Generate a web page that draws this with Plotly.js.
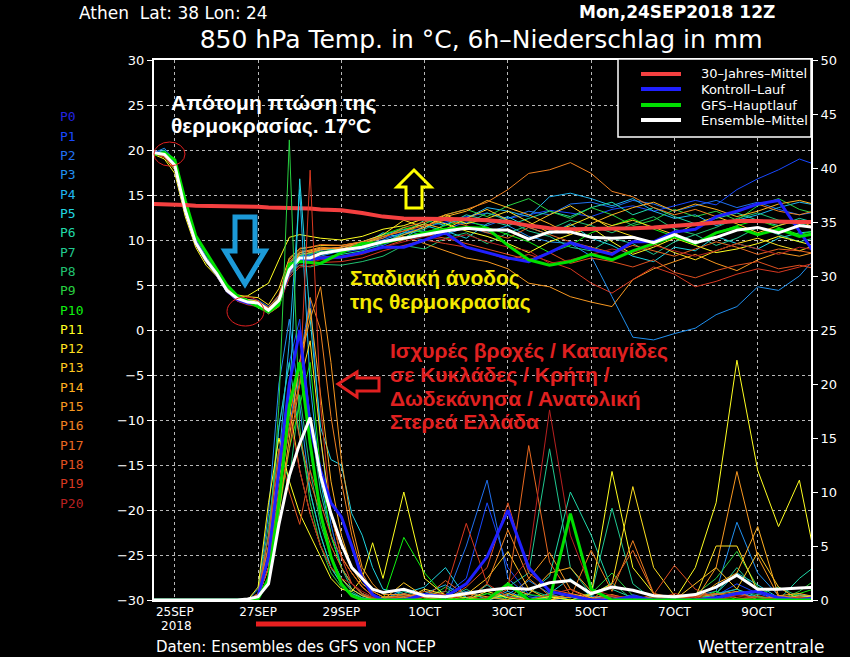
<!DOCTYPE html>
<html><head><meta charset="utf-8">
<script src="https://cdn.plot.ly/plotly-3.0.1.min.js"></script>
<style>html,body{margin:0;padding:0;background:#000;}#chart{width:850px;height:657px;}</style>
</head><body><div id="chart"></div>
<script>
// ---- time grids (hours since 24SEP2018 12Z) ----
const tempHours = [0,6,12,18,24,30,36,42,48,54,60,66,72,78,84,90,96,108,120,132,144,156,168,180,192,204,216,228,240,252,264,276,288,300,312,324,336,348,360,372,384];
const rainHours = [0,48,54,60,66,72,78,84,90,96,102,108,114,120,126,132,144,156,168,180,192,204,216,228,240,252,264,276,288,300,312,324,336,348,360,372,384];

// ---- x tick labels ----
const tickHours = [12,60,108,156,204,252,300,348];
const tickLabels = ['25SEP','27SEP','29SEP','1OCT','3OCT','5OCT','7OCT','9OCT'];

// ---- member names / colours ----
const memberNames = ['P0','P1','P2','P3','P4','P5','P6','P7','P8','P9','P10','P11','P12','P13','P14','P15','P16','P17','P18','P19','P20'];
const memberColors = ['#2424e0','#1848ff','#2070f0','#2090f0','#20b4f0','#20d4e0','#20d8a8','#20c890','#20c070','#28d040','#10f010','#ffff20','#ffe020','#ffc820','#ffb020','#f89820','#f08020','#e86820','#e05020','#d83820','#b82020'];

// ---- 850 hPa temperature (°C) ----
const tP1 = [19.8,19.6,18.0,13.0,9.5,7.6,6.0,4.2,3.2,2.9,2.7,2.0,3.0,7.2,8.4,8.2,8.6,9.0,9.6,10.2,10.8,11.4,12.0,12.6,13.0,12.4,12.8,13.3,13.0,12.6,13.4,13.8,13.2,13.8,14.4,13.9,15.6,16.8,17.8,19.0,18.2];
const tP2 = [19.6,19.8,18.6,13.6,10.0,8.0,6.5,4.6,3.8,3.4,3.3,2.6,3.8,6.9,8.1,8.3,8.8,8.6,9.0,9.4,10.4,10.0,11.2,12.0,11.6,12.4,13.2,12.8,14.0,14.2,13.6,14.4,14.0,13.2,13.8,14.4,13.6,14.2,13.4,12.8,13.2];
const tP3 = [19.7,20.2,18.8,13.8,10.2,8.2,6.6,4.8,3.6,3.2,2.8,2.3,3.1,6.0,7.6,7.9,8.2,8.8,9.4,10.0,10.8,11.0,10.6,11.4,10.8,11.6,10.4,9.8,9.6,8.2,3.7,-0.8,-1.1,-0.4,0.2,1.7,2.6,4.8,4.4,6.0,8.6];
const tP4 = [19.5,19.6,18.2,13.1,9.6,7.6,6.1,4.3,3.4,3.0,3.1,2.4,3.6,7.4,8.6,8.4,8.9,9.2,9.8,10.6,11.2,10.4,11.8,12.4,13.6,13.2,12.6,14.8,15.2,14.6,13.8,14.6,13.2,12.4,12.8,11.6,12.2,12.8,13.6,14.2,13.8];
const tP5 = [19.6,20.0,18.5,13.4,9.9,7.9,6.4,4.5,3.7,3.3,3.2,2.1,3.2,6.5,8.2,8.6,9.0,8.9,9.4,10.8,10.2,11.6,11.0,10.2,11.8,12.6,11.4,10.6,11.8,10.2,9.4,8.2,7.6,9.2,8.8,10.4,9.6,9.0,10.2,10.8,11.0];
const tP6 = [19.7,19.4,18.1,13.2,9.8,7.7,6.2,4.4,3.5,3.1,2.9,2.0,2.8,6.2,7.8,7.6,8.0,8.4,8.8,9.6,10.8,12.2,11.6,12.8,12.2,11.6,12.4,13.2,12.6,13.6,14.2,12.8,13.6,12.6,11.8,12.4,13.0,12.2,11.6,12.4,11.8];
const tP7 = [19.6,19.5,18.4,13.5,9.9,7.9,6.4,4.6,3.6,3.2,3.0,2.3,3.4,6.8,8.0,8.2,8.4,8.8,9.2,9.8,10.6,11.2,12.4,11.8,13.0,12.2,11.0,10.4,9.2,8.8,10.2,9.6,8.4,9.8,10.6,9.4,10.2,11.4,10.6,9.8,10.4];
const tP8 = [19.7,19.3,18.3,13.3,9.6,7.7,6.2,4.3,3.4,2.9,2.8,1.9,3.0,6.4,7.2,7.0,7.3,7.2,7.6,8.2,9.4,9.0,10.2,10.8,9.6,10.8,11.6,11.2,12.2,11.6,10.8,11.8,12.6,11.2,10.6,11.4,12.4,13.0,12.2,11.6,12.2];
const tP9 = [19.8,19.5,18.6,13.8,10.1,8.1,6.6,4.7,3.7,3.3,3.1,2.2,3.3,7.0,8.3,8.5,8.7,9.0,9.4,10.4,11.2,11.8,12.8,13.4,12.6,13.8,14.6,13.2,12.4,13.6,12.8,11.6,12.2,13.4,12.6,13.2,12.2,13.8,14.6,13.4,12.8];
const tP10 = [19.6,19.4,18.2,13.4,9.8,7.8,6.3,4.5,3.5,3.1,2.9,2.1,3.1,6.6,7.9,8.1,8.6,8.8,9.2,10.6,11.4,10.8,11.6,12.2,11.4,10.6,9.8,8.6,9.4,10.8,11.6,12.4,11.2,10.4,9.6,10.8,11.6,12.2,11.4,10.6,11.2];
const tP11 = [19.5,19.0,17.4,12.6,9.2,7.2,6.0,4.2,3.6,3.8,4.5,5.2,7.8,10.3,10.6,10.4,10.2,10.0,10.4,11.2,11.6,12.4,11.8,11.0,10.4,9.6,8.6,9.8,10.6,11.4,9.8,8.4,9.2,10.2,9.4,8.6,9.0,9.6,10.4,9.8,9.2];
const tP12 = [19.6,19.2,17.8,13.0,9.5,7.5,6.1,4.4,3.9,3.7,3.6,2.8,4.6,8.0,9.0,9.2,9.4,9.4,9.8,10.6,12.2,11.4,12.8,11.8,12.4,13.2,12.0,10.8,11.6,12.6,11.2,10.4,9.6,8.6,7.8,8.8,9.6,10.2,9.4,8.8,9.6];
const tP13 = [19.7,19.4,18.1,13.3,9.8,7.8,6.4,4.6,3.8,3.4,3.2,2.4,3.6,7.4,8.6,8.8,9.1,9.0,9.6,10.4,11.0,11.8,11.2,12.4,13.4,12.2,11.6,12.8,13.8,12.4,11.6,12.2,11.4,10.6,11.8,12.6,11.8,10.8,11.6,12.2,11.0];
const tP14 = [19.6,19.5,18.5,13.6,10.0,8.0,6.5,4.7,3.6,3.2,3.0,2.2,3.2,6.8,8.4,8.6,8.9,9.2,9.8,9.6,10.6,11.4,12.6,13.2,14.4,13.6,12.8,11.8,10.6,11.8,12.8,13.6,14.2,13.2,14.0,13.4,12.6,13.2,14.0,14.4,13.8];
const tP15 = [19.7,19.3,18.0,13.1,9.6,7.7,6.3,4.5,3.5,3.0,2.8,1.8,2.6,6.6,8.6,8.9,9.2,9.0,9.2,9.8,10.4,9.6,8.8,8.0,7.6,6.8,5.2,4.8,3.7,3.1,2.6,5.6,6.8,7.6,8.4,7.4,6.6,7.8,8.6,8.2,8.8];
const tP16 = [19.6,19.6,18.4,13.5,9.9,7.9,6.4,4.4,3.4,3.0,3.0,2.3,3.5,7.6,8.8,8.7,9.0,9.2,9.6,10.2,11.4,12.0,12.8,13.4,14.2,15.6,17.4,17.8,18.6,17.4,15.4,14.8,13.6,12.8,13.4,12.6,13.2,14.0,13.2,12.8,13.4];
const tP17 = [19.8,19.5,18.2,13.2,9.7,7.8,6.3,4.5,3.6,3.2,3.1,2.5,3.9,7.8,9.1,9.2,9.5,9.4,9.8,10.4,11.0,11.6,12.2,11.6,10.8,10.2,11.4,10.6,9.8,9.2,8.6,9.4,8.8,8.2,9.0,9.8,9.2,8.4,9.0,8.8,8.4];
const tP18 = [19.7,19.4,18.3,13.4,9.8,7.8,6.2,4.3,3.3,2.9,2.7,1.9,2.9,6.3,7.6,7.7,8.1,8.2,8.6,9.2,10.0,10.6,10.2,9.6,9.0,8.4,7.8,8.6,7.4,8.0,7.6,7.0,7.8,6.4,5.8,6.6,7.2,7.6,6.8,7.2,6.7];
const tP19 = [19.6,19.2,18.0,13.0,9.5,7.6,6.1,4.2,3.2,2.8,2.6,1.8,2.7,5.8,7.0,7.1,7.5,7.6,8.0,8.8,9.4,10.0,9.6,9.2,8.6,7.8,8.4,7.6,6.8,5.2,4.1,5.6,7.0,6.2,4.8,5.4,6.2,6.8,6.4,7.0,7.6];
const tP20 = [19.7,19.3,18.1,13.1,9.6,7.7,6.2,4.4,3.4,3.0,2.9,2.0,3.0,6.1,7.2,7.5,7.8,8.0,8.4,9.2,9.8,10.4,10.0,10.6,9.8,9.2,8.8,7.4,7.8,8.4,9.0,8.6,9.4,8.8,8.2,8.8,9.6,9.0,8.4,9.2,8.8];
const tControl = [19.7,19.6,18.4,13.4,9.8,7.8,6.3,4.4,3.4,3.0,2.8,2.0,3.0,6.6,7.8,7.8,8.0,8.1,8.6,9.2,9.2,10.0,10.8,9.2,8.6,8.0,7.6,8.6,9.7,9.0,8.4,9.8,9.8,10.9,11.2,12.6,13.2,14.0,14.4,11.0,7.6];
const tGFS = [19.5,19.7,18.9,14.4,10.5,8.6,6.8,5.0,3.8,3.2,2.6,2.0,2.8,7.3,7.6,7.5,7.4,8.6,9.6,9.7,10.2,10.8,11.2,11.4,11.3,9.4,7.8,7.2,7.6,8.4,7.8,8.8,9.6,10.4,9.6,10.8,11.4,10.6,11.2,10.4,10.8];
const tMean = [19.7,19.5,18.3,13.3,9.7,7.8,6.3,4.4,3.5,3.1,3.0,2.2,3.3,6.7,8.0,8.0,8.5,8.9,9.2,9.8,10.2,10.6,11.0,11.3,11.1,11.1,10.1,10.9,10.9,10.3,10.2,10.3,9.7,10.6,9.7,10.3,11.1,11.4,10.8,11.6,11.3];
const tClim = [14.0,14.0,13.9,13.9,13.8,13.8,13.8,13.7,13.7,13.7,13.7,13.6,13.6,13.6,13.5,13.5,13.4,13.3,13.0,12.6,12.4,12.4,12.4,12.3,12.2,12.0,11.6,11.3,11.2,11.2,11.2,11.3,11.4,11.6,11.8,12.0,12.1,12.1,12.0,12.0,12.0];

// ---- 6h precipitation (mm) ----
const rP1 = [0,0,0,0.5,6,16,22,26,14,8,4,2,1,0.4,0.1,0,0.2,0,0.5,2,9,3,0.5,0,0.3,0,0,0.5,0,0,0,0.4,1.5,0.6,0,0.3,0.5];
const rP2 = [0,0,0,0.3,3,10,16,22,28,15,7,3,1.5,0.6,0.2,0,1,0.3,0,5,11.1,2,0.3,0,0,0.4,0,0,0,0.2,0,0.6,1,0,0.3,0,0.2];
const rP3 = [0,0,0,1,8,20,26,18,10,6,3,1.5,0.6,0.2,0,0,0.5,0,0.2,0.8,0,0.5,1.8,0.6,0,0,0,0.3,0,0,0.4,0.8,7.2,2.5,0.4,0,0];
const rP4 = [0,0,0,0.4,4,13,24,38,20,11,6,3,1.5,0.6,0.2,0,0,0.6,1.4,0.2,0,0.8,0,0.2,0.5,0,0.3,0,0,0,0,0.2,0.6,0.3,0,0.5,0.2];
const rP5 = [0,0,0,0.2,2,9,18,39,26,16,13,12.5,8,6,3,1,0.6,1.2,3.0,0.2,0,0.4,0,0.6,2,0.3,0,0,0.3,0,0,0.6,2.5,1.4,0.2,0,0.3];
const rP6 = [0,0,0,0.5,6,16,22,15,10,6,3,1.5,0.6,0.2,0,0,0.3,0,0.5,0,1.4,0,0.6,2.2,10,6,1,0.2,0,0.3,0,0.5,1,0.3,0,2,3.5];
const rP7 = [0,0,0,0.3,3,12,20,25,17,10,6,3,1,0.4,0,0,0.8,0.2,0,1,0,1.2,2.5,14,3,0.5,8.5,1.5,0,0.2,0,0.6,3,0.8,0,0.3,0.5];
const rP8 = [0,0,0,0.6,7,14,11,19,12,7,4,2,0.8,0.2,0,0,0,0.5,0.8,0,0.2,0,1,0.3,0,0.4,1.6,0,0.3,0,0,0.2,0.8,0.5,1.2,0.3,0];
const rP9 = [0,0,0,0.4,4,18,42.6,16,9,5,2.5,1.2,0.4,0,0,0,0.5,0,1.2,0,0.6,0,0,0.4,0.2,0.6,2.5,0.4,0,0,0.5,2,4.5,1.2,0,0.8,2.2];
const rP10 = [0,0,0,0.2,2,8,14,18,22,12,6,3,1.5,0.6,0.2,0,5.8,2.5,0.3,0,0.6,0.2,0.5,0.3,0,0,0,0,0,0,0,0.8,0,0.3,0,0.6,1.2];
const rP11 = [0,0,0,1.2,9,15,11,8,6,4,2,1,0.8,2,5.3,2,10,2,0.4,0,0.8,0.2,0,0.3,0,0.5,11.9,3,0.6,0,3,9,22.2,12,6.8,11.1,1.5];
const rP12 = [0,0,0,0.3,3,10,16,20,24,15,8,4,2.5,1.2,0.4,0.2,0,1,0.5,0.2,0,0.6,0,0,0.3,0.5,1.5,10.5,3,0.4,0.2,5,5,0.8,0,0.4,0.2];
const rP13 = [0,0,0,0.5,5,13,18,12,8,5,3,2,1,0.4,0.1,0,1.6,0.3,0,0.5,2,4.5,1,0,0.6,0.2,0,0.3,0,0,1.5,3,1,4.4,1.2,0,0.3];
const rP14 = [0,0,0,0.2,2,8,15,22,27,19,11,6,3,1.5,0.8,0.3,0.3,0,0.4,0,0.2,1.2,0.5,2.5,3,0.8,0,0,0.3,0.2,0,1.5,2.5,6.8,0.4,0.6,0.2];
const rP15 = [0,0,0,0.4,4,11,17,22,26,29,22,13,7,3,1.5,0.5,0.5,0.2,0,0.6,0.3,0,2,4.4,1,0.2,0.5,0,0,0.4,0,3,11.9,4,0.3,0,0.5];
const rP16 = [0,0,0,0.3,3,9,14,20,28,25,17,11,6,2.5,0.8,0.3,0.2,0.8,0.4,0,1.5,6.5,2,0.4,0.2,4.6,0.8,5.5,0.6,0.2,0.3,0.5,0.8,0,0.4,0.2,0];
const rP17 = [0,0,0,0.5,5,13,20,15,11,8,5,3,1.5,0.5,0.1,0,0.6,0.2,1.8,0.4,0,1,14.3,3.5,0.5,0,1.5,4.6,0.6,0,0.4,0.6,0.2,0,0.3,0,0.2];
const rP18 = [0,0,0,0.6,6,14,10,7,12,9,6,4,2.5,1.2,0.4,0,0,0.4,0,1.2,3,9,2.5,1,0.6,0,0.3,0,0.5,3.2,1,0.2,0,0.4,0,0.2,0];
const rP19 = [0,0,0,0.3,3,10,16,20,39.8,18,8,4,1.5,0.6,0.2,0,0.4,0,0.8,7.1,1.5,0.3,0,0.5,1,0,0.4,0.2,0,0.6,0.2,0,0.5,0.2,0,0.3,0];
const rP20 = [0,0,0,0.4,4,12,17,12,8,5,3,2,1.5,0.8,0.3,0,0,0.3,0.5,0,0.2,1.5,3.8,17.6,6,1,0.4,0,0.2,0,0.3,0,0.4,0,0.2,0,0.4];
const rControl = [0,0,0,0.3,4,12,20,25,16,12,9,7.7,5,2,0.5,0,0,0.5,0.3,1.5,4,8.3,3,0.8,0.4,0,0,0.3,0,0,0,0.2,0.6,0.8,0.2,0,0.3];
const rGFS = [0,0,0,0.1,2,9,18,22,14.5,8,4,1.5,0.4,0,0,0,0,0,0,0,0,1.5,0,0,8,1,0,0,0,0,0,0,0,0,0,0,0];
const rMean = [0,0,0.1,0.3,1.5,7,11.5,14.5,16.9,11.5,8.0,5.2,3.0,2.0,1.0,0.7,1.0,0.4,0.3,0.6,0.9,1.1,1.0,1.6,1.8,0.6,1.2,0.9,0.4,0.3,0.5,1.2,2.3,1.0,1.0,1.1,1.2];

const tempMembers = [tP1,tP2,tP3,tP4,tP5,tP6,tP7,tP8,tP9,tP10,tP11,tP12,tP13,tP14,tP15,tP16,tP17,tP18,tP19,tP20];
const rainMembers = [rP1,rP2,rP3,rP4,rP5,rP6,rP7,rP8,rP9,rP10,rP11,rP12,rP13,rP14,rP15,rP16,rP17,rP18,rP19,rP20];

const traces = [];
rainMembers.forEach((r,i)=>traces.push({x:rainHours,y:r,yaxis:'y2',mode:'lines',line:{color:memberColors[i+1],width:1},hoverinfo:'skip',showlegend:false}));
tempMembers.forEach((t,i)=>traces.push({x:tempHours,y:t,mode:'lines',line:{color:memberColors[i+1],width:1},hoverinfo:'skip',showlegend:false}));
traces.push({x:rainHours,y:rControl,yaxis:'y2',mode:'lines',line:{color:'#2020ff',width:3},showlegend:false});
traces.push({x:rainHours,y:rGFS,yaxis:'y2',mode:'lines',line:{color:'#00e000',width:3},showlegend:false});
traces.push({x:tempHours,y:tControl,mode:'lines',line:{color:'#2020ff',width:3},showlegend:false});
traces.push({x:tempHours,y:tGFS,mode:'lines',line:{color:'#00e000',width:3},showlegend:false});
traces.push({x:tempHours,y:tClim,mode:'lines',line:{color:'#f44040',width:4},showlegend:false});
traces.push({x:rainHours,y:rMean,yaxis:'y2',mode:'lines',line:{color:'#ffffff',width:3},showlegend:false});
traces.push({x:tempHours,y:tMean,mode:'lines',line:{color:'#ffffff',width:3},showlegend:false});

// pixel -> paper helpers for decorations
const PX = p => (p-154)/657;
const PY = p => (600-p)/540;
const path = pts => 'M ' + pts.map(p=>PX(p[0])+','+PY(p[1])).join(' L ') + ' Z';

const shapes = [
  {type:'path',xref:'paper',yref:'paper',path:path([[235,217],[255,217],[255,251],[265,251],[245,284],[225,251],[235,251]]),line:{color:'#1c9ad8',width:5}},
  {type:'path',xref:'paper',yref:'paper',path:path([[414,170],[431,187],[422,187],[422,208],[406,208],[406,187],[397,187]]),line:{color:'#ffff00',width:3}},
  {type:'path',xref:'paper',yref:'paper',path:path([[338,384],[357,372],[357,378],[379,378],[379,391],[357,391],[357,397]]),line:{color:'#e02020',width:3}},
  {type:'circle',xref:'paper',yref:'paper',x0:PX(154),x1:PX(185),y0:PY(142),y1:PY(166),line:{color:'#e02020',width:1}},
  {type:'circle',xref:'paper',yref:'paper',x0:PX(227),x1:PX(264),y0:PY(297),y1:PY(326),line:{color:'#e02020',width:1}},
  {type:'line',xref:'paper',yref:'paper',x0:PX(256),x1:PX(366),y0:PY(624),y1:PY(624),line:{color:'#e82020',width:5}},
  {type:'rect',xref:'paper',yref:'paper',x0:PX(618),x1:PX(811),y0:PY(59),y1:PY(137),fillcolor:'#000',line:{color:'#fff',width:1.5}},
  {type:'line',xref:'paper',yref:'paper',x0:PX(641),x1:PX(681),y0:PY(74),y1:PY(74),line:{color:'#f44040',width:4}},
  {type:'line',xref:'paper',yref:'paper',x0:PX(641),x1:PX(681),y0:PY(89),y1:PY(89),line:{color:'#2020ff',width:4}},
  {type:'line',xref:'paper',yref:'paper',x0:PX(641),x1:PX(681),y0:PY(105),y1:PY(105),line:{color:'#00e000',width:4}},
  {type:'line',xref:'paper',yref:'paper',x0:PX(641),x1:PX(681),y0:PY(120),y1:PY(120),line:{color:'#ffffff',width:4}}
];

const ann = (text,px,py,opts) => Object.assign({text:text,xref:'paper',yref:'paper',x:PX(px),y:PY(py),xanchor:'left',yanchor:'middle',showarrow:false,font:{family:'DejaVu Sans',size:13,color:'#fff'}},opts||{});
const annotations = [
  ann('Athen\u00a0\u00a0Lat: 38 Lon: 24',77,13,{font:{family:'DejaVu Sans',size:17,color:'#fff'}}),
  ann('<b>Mon,24SEP2018 12Z</b>',577,12,{font:{family:'DejaVu Sans',size:17,color:'#fff'}}),
  ann('Daten: Ensembles des GFS von NCEP',154,647,{font:{family:'DejaVu Sans',size:15,color:'#fff'}}),
  ann('Wetterzentrale',696,647,{font:{family:'DejaVu Sans',size:17,color:'#fff'}}),
  ann('2018',176,626,{xanchor:'center',font:{family:'DejaVu Sans',size:12,color:'#fff'}}),
  ann('30\u2013Jahres\u2013Mittel',699,74,{font:{family:'DejaVu Sans',size:13,color:'#fff'}}),
  ann('Kontroll\u2013Lauf',699,89,{font:{family:'DejaVu Sans',size:13,color:'#fff'}}),
  ann('GFS\u2013Hauptlauf',699,105,{font:{family:'DejaVu Sans',size:13,color:'#fff'}}),
  ann('Ensemble\u2013Mittel',699,120,{font:{family:'DejaVu Sans',size:13,color:'#fff'}}),
  ann('<b>Απότομη πτώση της</b>',169,103,{font:{family:'Liberation Sans',size:21,color:'#fff'}}),
  ann('<b>θερμοκρασίας. 17°C</b>',169,126,{font:{family:'Liberation Sans',size:21,color:'#fff'}}),
  ann('<b>Σταδιακή άνοδος</b>',348,278,{font:{family:'Liberation Sans',size:21,color:'#f4e800'}}),
  ann('<b>της θερμοκρασίας</b>',348,302,{font:{family:'Liberation Sans',size:21,color:'#f4e800'}}),
  ann('<b>Ισχυρές βροχές / Καταιγίδες</b>',388,351,{font:{family:'Liberation Sans',size:21,color:'#e02020'}}),
  ann('<b>σε Κυκλάδες / Κρήτη /</b>',388,375,{font:{family:'Liberation Sans',size:21,color:'#e02020'}}),
  ann('<b>Δωδεκάνησα / Ανατολική</b>',388,398,{font:{family:'Liberation Sans',size:21,color:'#e02020'}}),
  ann('<b>Στερεά Ελλάδα</b>',388,421,{font:{family:'Liberation Sans',size:21,color:'#e02020'}})
];
memberNames.forEach((n,i)=>annotations.push(ann(n,58,117+i*19.3,{font:{family:'DejaVu Sans Mono',size:13,color:memberColors[i]}})));

const layout = {
  width:850,height:657,
  paper_bgcolor:'#000',plot_bgcolor:'#000',
  margin:{l:154,r:39,t:60,b:57},
  showlegend:false,
  title:{text:'850 hPa Temp. in °C, 6h\u2013Niederschlag in mm',x:0.566,xanchor:'center',y:0.941,yanchor:'middle',font:{family:'DejaVu Sans',size:25,color:'#fff'}},
  xaxis:{range:[0,378.7],tickvals:tickHours,ticktext:tickLabels,showgrid:true,gridcolor:'#b8b8b8',griddash:'dot',gridwidth:1,
         showline:true,linecolor:'#fff',linewidth:2,mirror:true,ticks:'',zeroline:false,
         tickfont:{family:'DejaVu Sans',size:12,color:'#fff'}},
  yaxis:{range:[-30,30],tickvals:[-30,-25,-20,-15,-10,-5,0,5,10,15,20,25,30],showgrid:true,gridcolor:'#b8b8b8',griddash:'dot',gridwidth:1,
         showline:true,linecolor:'#fff',linewidth:2,ticks:'outside',ticklen:5,tickcolor:'#fff',zeroline:false,
         tickfont:{family:'DejaVu Sans',size:13,color:'#fff'}},
  yaxis2:{range:[0,50],overlaying:'y',side:'right',tickvals:[0,5,10,15,20,25,30,35,40,45,50],showgrid:false,
          showline:true,linecolor:'#fff',linewidth:2,ticks:'outside',ticklen:5,tickcolor:'#fff',zeroline:false,
          tickfont:{family:'DejaVu Sans',size:13,color:'#fff'}},
  shapes:shapes,
  annotations:annotations
};
Plotly.newPlot('chart',traces,layout,{staticPlot:true,displayModeBar:false});
</script></body></html>
